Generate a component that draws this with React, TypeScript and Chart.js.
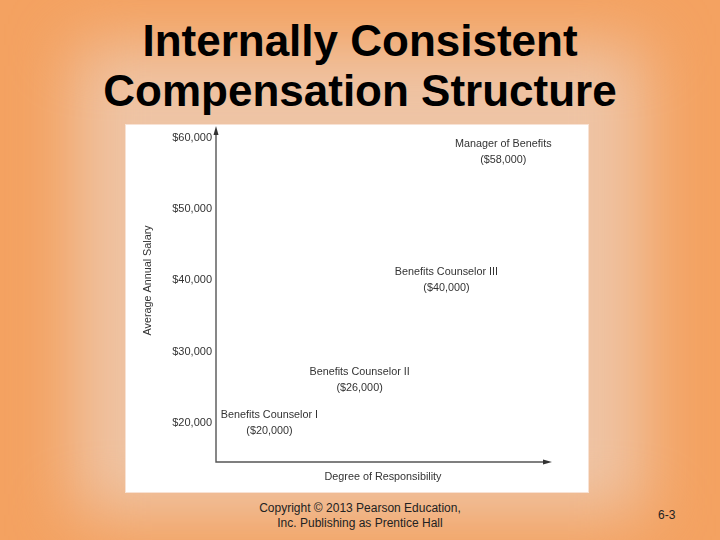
import { useEffect, useRef } from "react";
import { Chart, registerables } from "chart.js";
Chart.register(...registerables);

// job levels and their average salaries
const jobTitles = ["Benefits Counselor I", "Benefits Counselor II", "Benefits Counselor III", "Manager of Benefits"];
const salaries = [20000, 26000, 40000, 58000];
// horizontal position along "Degree of Responsibility" (0-100), estimated
const responsibility = [16, 43, 69, 86];
const yTicks = [20000, 30000, 40000, 50000, 60000];

const FONT = "'Liberation Sans', Arial, sans-serif";
const fmt = (v: number) => "$" + v.toLocaleString("en-US");

const axisArrows = {
  id: "axisArrows",
  afterDraw(chart: any) {
    const { ctx, chartArea: a } = chart;
    ctx.save();
    ctx.strokeStyle = "#555";
    ctx.fillStyle = "#333";
    ctx.lineWidth = 1.4;
    ctx.beginPath();
    ctx.moveTo(a.left, a.top + 2);
    ctx.lineTo(a.left, a.bottom);
    ctx.lineTo(a.right - 4, a.bottom);
    ctx.stroke();
    // y arrow
    ctx.beginPath();
    ctx.moveTo(a.left, a.top - 2);
    ctx.lineTo(a.left - 2.5, a.top + 7);
    ctx.lineTo(a.left + 2.5, a.top + 7);
    ctx.closePath();
    ctx.fill();
    // x arrow
    ctx.beginPath();
    ctx.moveTo(a.right + 2, a.bottom);
    ctx.lineTo(a.right - 7, a.bottom - 2.5);
    ctx.lineTo(a.right - 7, a.bottom + 2.5);
    ctx.closePath();
    ctx.fill();
    // y axis title, centred on the $40,000 line
    const y = chart.scales.y;
    ctx.translate(a.left - 68, y.getPixelForValue(40000));
    ctx.rotate(-Math.PI / 2);
    ctx.font = "10.8px " + FONT;
    ctx.textAlign = "center";
    ctx.textBaseline = "middle";
    ctx.fillText("Average Annual Salary", 0, 0);
    ctx.restore();
  },
};

const jobLabels = {
  id: "jobLabels",
  afterDatasetsDraw(chart: any) {
    const { ctx } = chart;
    const meta = chart.getDatasetMeta(0);
    ctx.save();
    ctx.font = "10.8px " + FONT;
    ctx.fillStyle = "#333";
    ctx.textAlign = "center";
    ctx.textBaseline = "middle";
    meta.data.forEach((pt: any, i: number) => {
      ctx.fillText(jobTitles[i], pt.x, pt.y - 8);
      ctx.fillText("(" + fmt(salaries[i]) + ")", pt.x, pt.y + 8);
    });
    ctx.restore();
  },
};

function SalaryChart() {
  const chartRef = useRef<HTMLCanvasElement>(null);
  const chartInstance = useRef<any>(null);

  useEffect(() => {
    const ctx = chartRef.current?.getContext("2d");
    chartInstance.current = new Chart(ctx, {
      type: "scatter",
      data: {
        datasets: [
          {
            data: salaries.map((s, i) => ({ x: responsibility[i], y: s })),
            pointRadius: 0,
            pointHoverRadius: 0,
          },
        ],
      },
      options: {
        animation: false,
        responsive: false,
        events: [],
        layout: { padding: { left: 0, right: 38, top: 3, bottom: 8 } },
        plugins: { legend: { display: false }, tooltip: { enabled: false } },
        scales: {
          x: {
            type: "linear",
            min: 0,
            max: 100,
            grid: { display: false },
            border: { display: false },
            ticks: { display: false },
            afterFit: (s: any) => {
              s.height = 22;
              s.paddingLeft = 0;
              s.paddingRight = 0;
            },
            title: {
              display: true,
              text: "Degree of Responsibility",
              color: "#333",
              font: { family: FONT, size: 10.8 },
              padding: { top: 0, bottom: 0 },
            },
          },
          y: {
            type: "linear",
            min: 14500,
            max: 61400,
            grid: { display: false, drawTicks: false },
            border: { display: false },
            afterBuildTicks: (s: any) => { s.ticks = yTicks.map((v) => ({ value: v })); },
            afterFit: (s: any) => {
              s.width = 90;
              s.paddingTop = 0;
              s.paddingBottom = 0;
            },
            ticks: {
              padding: 4,
              color: "#333",
              font: { family: FONT, size: 11 },
              callback: (v: any) => fmt(v),
            },
          },
        },
      },
      plugins: [axisArrows, jobLabels],
    });
    return () => {
      chartInstance.current?.destroy();
    };
  }, []);

  return <canvas ref={chartRef} width={462} height={367} style={{ display: "block" }} />;
}

export default function App() {
  return (
    <div
      style={{
        position: "fixed",
        left: 0,
        top: 0,
        width: 720,
        height: 540,
        overflow: "hidden",
        background: "#f4a261",
        fontFamily: FONT,
      }}
    >
      <div
        style={{
          position: "absolute",
          left: 75,
          top: 45,
          width: 570,
          height: 470,
          background: "#eec4a5",
          filter: "blur(32px)",
        }}
      />
      <div
        style={{
          position: "absolute",
          left: 0,
          top: 16,
          width: 720,
          textAlign: "center",
          fontWeight: "bold",
          fontSize: 44,
          lineHeight: "50px",
          color: "#000",
        }}
      >
        Internally Consistent
        <br />
        Compensation Structure
      </div>
      <div
        style={{
          position: "absolute",
          left: 126,
          top: 125,
          width: 462,
          height: 367,
          background: "#fff",
          boxShadow: "0 0 0 1px #f8e2d4",
        }}
      >
        <SalaryChart />
      </div>
      <div
        style={{
          position: "absolute",
          left: 200,
          top: 501,
          width: 320,
          textAlign: "center",
          fontSize: 12,
          lineHeight: "15px",
          color: "#222",
        }}
      >
        Copyright © 2013 Pearson Education,
        <br />
        Inc. Publishing as Prentice Hall
      </div>
      <div style={{ position: "absolute", left: 658, top: 508, fontSize: 12, color: "#222" }}>6-3</div>
    </div>
  );
}
